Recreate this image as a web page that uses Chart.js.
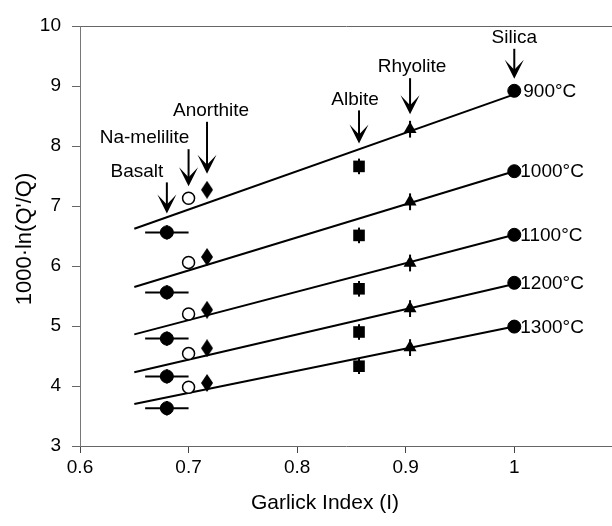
<!DOCTYPE html>
<html>
<head>
<meta charset="utf-8">
<script src="https://cdn.jsdelivr.net/npm/chart.js@4.4.0/dist/chart.umd.min.js"></script>
<style>
  body { margin: 0; background: #fff; }
  canvas { display: block; }
</style>
</head>
<body>
<canvas id="garlick" width="612" height="526"></canvas>
<script>
// glasses and their Garlick index
const glassNames = ['Basalt', 'Na-melilite', 'Anorthite', 'Albite', 'Rhyolite', 'Silica'];
const garlickIndex = [0.68, 0.70, 0.717, 0.857, 0.904, 1.0];

// 1000·ln(Q'/Q), one value per temperature (900..1300 °C)
const temps = ['900°C', '1000°C', '1100°C', '1200°C', '1300°C'];
const basalt     = [6.56, 5.56, 4.79, 4.16, 3.63];
const naMelilite = [7.13, 6.06, 5.20, 4.54, 3.98];
const anorthite  = [7.27, 6.15, 5.27, 4.63, 4.05];
const albite     = [7.66, 6.51, 5.62, 4.90, 4.33];
const rhyolite   = [8.28, 7.07, 6.05, 5.29, 4.64];
const silica     = [8.92, 7.58, 6.52, 5.72, 4.99];

// error bars (same units as the axes)
const yErr = [0.12, 0, 0.1, 0.13, 0.14, 0.1];
const xErr = [0.02, 0, 0, 0, 0, 0];

// fitted lines, from I = 0.65 to I = 1.0
const fitX = [0.65, 1.0];
const fitStart = [6.62, 5.65, 4.86, 4.23, 3.70];
const fitEnd   = [8.86, 7.58, 6.52, 5.70, 4.99];

const series = [basalt, naMelilite, anorthite, albite, rhyolite, silica];

// tall diamond marker
function makeDiamond() {
  const c = document.createElement('canvas');
  c.width = 12; c.height = 18;
  const g = c.getContext('2d');
  g.fillStyle = '#000';
  g.beginPath();
  g.moveTo(6, 0); g.lineTo(12, 9); g.lineTo(6, 18); g.lineTo(0, 9);
  g.closePath();
  g.fill();
  return c;
}

const markerStyles = [
  { pointStyle: 'circle', pointRadius: 6.5, backgroundColor: '#000', borderColor: '#000', borderWidth: 1 },
  { pointStyle: 'circle', pointRadius: 6, backgroundColor: '#fff', borderColor: '#000', borderWidth: 1.5 },
  { pointStyle: makeDiamond(), pointRadius: 9, backgroundColor: '#000', borderColor: '#000', borderWidth: 0 },
  { pointStyle: 'rect', pointRadius: 8.2, backgroundColor: '#000', borderColor: '#000', borderWidth: 0 },
  { pointStyle: 'triangle', pointRadius: 7.5, backgroundColor: '#000', borderColor: '#000', borderWidth: 0 },
  { pointStyle: 'circle', pointRadius: 6.5, backgroundColor: '#000', borderColor: '#000', borderWidth: 1 }
];

const datasets = [];
glassNames.forEach((name, j) => {
  datasets.push(Object.assign({
    label: name,
    data: series[j].map(v => ({ x: garlickIndex[j], y: v })),
    showLine: false
  }, markerStyles[j]));
});
temps.forEach((t, i) => {
  datasets.push({
    label: t,
    data: [{ x: fitX[0], y: fitStart[i] }, { x: fitX[1], y: fitEnd[i] }],
    showLine: true,
    borderColor: '#000',
    borderWidth: 2,
    pointRadius: 0
  });
});

// arrow layout for the glass labels (pixels)
const arrowGap = [19, 12, 16, 23, 15, 12];
const arrowLen = [31, 37, 52, 33, 36, 30];
const labelDx  = [-30, -44, 4, -4, 2, 0];

const font = '"Liberation Sans", Arial, sans-serif';

const extras = {
  id: 'extras',
  beforeDatasetsDraw(chart) {
    const ctx = chart.ctx;
    const xs = chart.scales.x, ys = chart.scales.y;
    ctx.save();
    ctx.strokeStyle = '#000';
    ctx.lineWidth = 2;
    glassNames.forEach((name, j) => {
      series[j].forEach(v => {
        const px = xs.getPixelForValue(garlickIndex[j]);
        const py = ys.getPixelForValue(v);
        ctx.beginPath();
        if (yErr[j] > 0) {
          ctx.moveTo(px, ys.getPixelForValue(v - yErr[j]));
          ctx.lineTo(px, ys.getPixelForValue(v + yErr[j]));
        }
        if (xErr[j] > 0) {
          ctx.moveTo(xs.getPixelForValue(garlickIndex[j] - xErr[j]), py);
          ctx.lineTo(xs.getPixelForValue(garlickIndex[j] + xErr[j]), py);
        }
        ctx.stroke();
      });
    });
    ctx.restore();
  },
  afterDraw(chart) {
    const ctx = chart.ctx;
    const xs = chart.scales.x, ys = chart.scales.y;
    ctx.save();
    ctx.fillStyle = '#000';
    ctx.strokeStyle = '#000';
    ctx.font = '19px ' + font;

    // glass labels with arrows
    glassNames.forEach((name, j) => {
      const px = xs.getPixelForValue(garlickIndex[j]);
      const top = ys.getPixelForValue(Math.max(...series[j]));
      const tip = top - arrowGap[j];
      const start = tip - arrowLen[j];
      ctx.lineWidth = 2;
      ctx.beginPath();
      ctx.moveTo(px, start);
      ctx.lineTo(px, tip - 6);
      ctx.stroke();
      ctx.beginPath();
      ctx.moveTo(px, tip);
      ctx.lineTo(px - 9.5, tip - 19);
      ctx.lineTo(px, tip - 9);
      ctx.lineTo(px + 9.5, tip - 19);
      ctx.closePath();
      ctx.fill();
      ctx.textAlign = 'center';
      ctx.textBaseline = 'middle';
      ctx.fillText(name, px + labelDx[j], start - 11);
    });

    // temperature labels next to silica
    const sx = xs.getPixelForValue(garlickIndex[5]);
    temps.forEach((t, i) => {
      ctx.textAlign = 'left';
      ctx.textBaseline = 'middle';
      ctx.fillText(t, sx + (i === 0 ? 9 : 6), ys.getPixelForValue(silica[i]) + 1);
    });

    // axis titles
    ctx.font = '21px ' + font;
    ctx.textAlign = 'center';
    ctx.textBaseline = 'middle';
    ctx.fillText('Garlick Index (I)', 325, 503);
    ctx.translate(25, 239);
    ctx.rotate(-Math.PI / 2);
    ctx.font = '22px ' + font;
    ctx.fillText('1000·ln(Q\'/Q)', 0, 0);
    ctx.restore();
  }
};

const ctx = document.getElementById('garlick').getContext('2d');
const chart = new Chart(ctx, {
  type: 'scatter',
  data: { datasets: datasets },
  plugins: [extras],
  options: {
    responsive: false,
    animation: false,
    layout: { autoPadding: false, padding: { top: 26, right: 0, bottom: 0, left: 0 } },
    plugins: { legend: { display: false }, tooltip: { enabled: false } },
    scales: {
      x: {
        type: 'linear',
        min: 0.6,
        max: 1.09,
        afterBuildTicks: s => { s.ticks = s.ticks.filter(t => t.value <= 1.0001); },
        afterFit: s => { s.height = 80; s.paddingLeft = 0; s.paddingRight = 0; },
        ticks: {
          stepSize: 0.1,
          padding: 3,
          color: '#000',
          font: { family: font, size: 19 },
          callback: v => String(Math.round(v * 10) / 10)
        },
        grid: { color: 'transparent', tickColor: '#444', tickLength: 7, drawTicks: true },
        border: { display: true, color: '#666', width: 1 }
      },
      y: {
        min: 3,
        max: 10,
        afterFit: s => { s.width = 80; s.paddingTop = 0; s.paddingBottom = 0; },
        ticks: {
          stepSize: 1,
          padding: 11,
          color: '#000',
          font: { family: font, size: 19 }
        },
        grid: {
          color: c => (c.tick && c.tick.value === 10 ? '#666' : 'transparent'),
          tickColor: '#666',
          tickLength: 8
        },
        border: { display: true, color: '#777', width: 1 }
      }
    }
  }
});
</script>
</body>
</html>
